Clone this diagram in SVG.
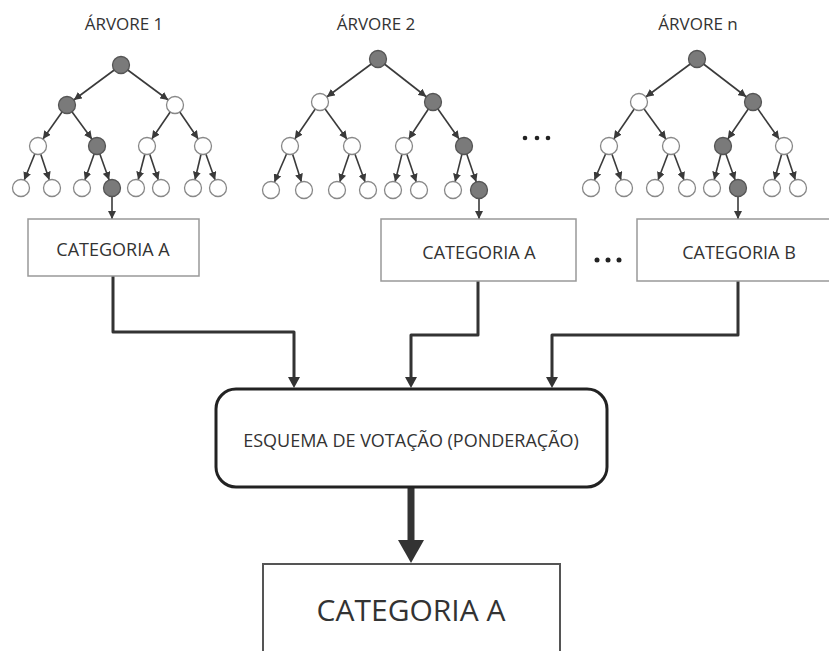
<svg xmlns="http://www.w3.org/2000/svg" width="829" height="651" viewBox="0 0 829 651">
<defs>
<style>
.t{font-family:"Open Sans","Liberation Sans",sans-serif;fill:#333;text-anchor:middle}
.e{stroke:#3a3a3a;stroke-width:1.6;fill:none}
.w{fill:#fff;stroke:#888;stroke-width:1.3}
.g{fill:#7a7a7a;stroke:#555;stroke-width:1.3}
.box{fill:#fff;stroke:#999;stroke-width:1.5}
.c{stroke:#333;stroke-width:3;fill:none;stroke-linejoin:round}
</style>
<marker id="ea" markerUnits="userSpaceOnUse" markerWidth="8" markerHeight="8" refX="16.5" refY="4" orient="auto"><path d="M0,0 L8,4 L0,8 z" fill="#3a3a3a"/></marker>
<marker id="eb" markerUnits="userSpaceOnUse" markerWidth="8" markerHeight="8" refX="8" refY="4" orient="auto"><path d="M0,0 L8,4 L0,8 z" fill="#3a3a3a"/></marker>
<marker id="ca" markerUnits="userSpaceOnUse" markerWidth="11" markerHeight="12" refX="6" refY="6" orient="auto"><path d="M0,0 L11,6 L0,12 z" fill="#333"/></marker>
</defs>
<rect width="829" height="651" fill="#fff"/>

<g id="connectors">
<g class="e" marker-end="url(#ea)">
<line x1="121" y1="65" x2="67" y2="105"/><line x1="121" y1="65" x2="175" y2="105"/>
<line x1="67" y1="105" x2="38" y2="146"/><line x1="67" y1="105" x2="97" y2="146"/>
<line x1="175" y1="105" x2="147" y2="146"/><line x1="175" y1="105" x2="203" y2="146"/>
<line x1="38" y1="146" x2="21" y2="188"/><line x1="38" y1="146" x2="52" y2="188"/>
<line x1="97" y1="146" x2="82" y2="188"/><line x1="97" y1="146" x2="112" y2="188"/>
<line x1="147" y1="146" x2="136" y2="188"/><line x1="147" y1="146" x2="161" y2="188"/>
<line x1="203" y1="146" x2="193" y2="188"/><line x1="203" y1="146" x2="218" y2="188"/>
<line x1="378" y1="59" x2="320" y2="102"/><line x1="378" y1="59" x2="433" y2="102"/>
<line x1="320" y1="102" x2="290" y2="146"/><line x1="320" y1="102" x2="352" y2="146"/>
<line x1="433" y1="102" x2="404" y2="146"/><line x1="433" y1="102" x2="464" y2="146"/>
<line x1="290" y1="146" x2="271" y2="190"/><line x1="290" y1="146" x2="304" y2="190"/>
<line x1="352" y1="146" x2="337" y2="190"/><line x1="352" y1="146" x2="368" y2="190"/>
<line x1="404" y1="146" x2="393" y2="190"/><line x1="404" y1="146" x2="419" y2="190"/>
<line x1="464" y1="146" x2="453" y2="190"/><line x1="464" y1="146" x2="479" y2="190"/>
<line x1="697" y1="59" x2="639" y2="102"/><line x1="697" y1="59" x2="753" y2="102"/>
<line x1="639" y1="102" x2="609" y2="146"/><line x1="639" y1="102" x2="671" y2="146"/>
<line x1="753" y1="102" x2="723" y2="146"/><line x1="753" y1="102" x2="784" y2="146"/>
<line x1="609" y1="146" x2="591" y2="188"/><line x1="609" y1="146" x2="624" y2="188"/>
<line x1="671" y1="146" x2="655" y2="188"/><line x1="671" y1="146" x2="687" y2="188"/>
<line x1="723" y1="146" x2="712" y2="188"/><line x1="723" y1="146" x2="738" y2="188"/>
<line x1="784" y1="146" x2="772" y2="188"/><line x1="784" y1="146" x2="798" y2="188"/>
</g>
<g class="e" marker-end="url(#eb)">
<line x1="112" y1="196" x2="112" y2="219"/>
<line x1="479" y1="198" x2="479" y2="219"/>
<line x1="738" y1="196" x2="738" y2="219"/>
</g>
<g class="c" marker-end="url(#ca)">
<path d="M113,276 V332 H294 V383"/>
<path d="M478,281 V335 H411 V383"/>
<path d="M738,281 V335 H552 V383"/>
</g>
<line x1="411" y1="488" x2="411" y2="542" stroke="#333" stroke-width="7"/>
<polygon points="398,540 424,540 411,563" fill="#333"/>
</g>

<g id="tree1">
<text class="t" x="124" y="30" font-size="17">ÁRVORE 1</text>
<circle class="g" cx="121" cy="65" r="8.5"/>
<circle class="g" cx="67" cy="105" r="8.5"/><circle class="w" cx="175" cy="105" r="8.5"/>
<circle class="w" cx="38" cy="146" r="8.5"/><circle class="g" cx="97" cy="146" r="8.5"/><circle class="w" cx="147" cy="146" r="8.5"/><circle class="w" cx="203" cy="146" r="8.5"/>
<circle class="w" cx="21" cy="188" r="8.5"/><circle class="w" cx="52" cy="188" r="8.5"/><circle class="w" cx="82" cy="188" r="8.5"/><circle class="g" cx="112" cy="188" r="8.5"/>
<circle class="w" cx="136" cy="188" r="8.5"/><circle class="w" cx="161" cy="188" r="8.5"/><circle class="w" cx="193" cy="188" r="8.5"/><circle class="w" cx="218" cy="188" r="8.5"/>
</g>

<g id="tree2">
<text class="t" x="376" y="30" font-size="17">ÁRVORE 2</text>
<circle class="g" cx="378" cy="59" r="8.5"/>
<circle class="w" cx="320" cy="102" r="8.5"/><circle class="g" cx="433" cy="102" r="8.5"/>
<circle class="w" cx="290" cy="146" r="8.5"/><circle class="w" cx="352" cy="146" r="8.5"/><circle class="w" cx="404" cy="146" r="8.5"/><circle class="g" cx="464" cy="146" r="8.5"/>
<circle class="w" cx="271" cy="190" r="8.5"/><circle class="w" cx="304" cy="190" r="8.5"/><circle class="w" cx="337" cy="190" r="8.5"/><circle class="w" cx="368" cy="190" r="8.5"/>
<circle class="w" cx="393" cy="190" r="8.5"/><circle class="w" cx="419" cy="190" r="8.5"/><circle class="w" cx="453" cy="190" r="8.5"/><circle class="g" cx="479" cy="190" r="8.5"/>
</g>

<g id="tree3">
<text class="t" x="698" y="30" font-size="17">ÁRVORE n</text>
<circle class="g" cx="697" cy="59" r="8.5"/>
<circle class="w" cx="639" cy="102" r="8.5"/><circle class="g" cx="753" cy="102" r="8.5"/>
<circle class="w" cx="609" cy="146" r="8.5"/><circle class="w" cx="671" cy="146" r="8.5"/><circle class="g" cx="723" cy="146" r="8.5"/><circle class="w" cx="784" cy="146" r="8.5"/>
<circle class="w" cx="591" cy="188" r="8.5"/><circle class="w" cx="624" cy="188" r="8.5"/><circle class="w" cx="655" cy="188" r="8.5"/><circle class="w" cx="687" cy="188" r="8.5"/>
<circle class="w" cx="712" cy="188" r="8.5"/><circle class="g" cx="738" cy="188" r="8.5"/><circle class="w" cx="772" cy="188" r="8.5"/><circle class="w" cx="798" cy="188" r="8.5"/>
</g>

<g id="dots-trees" fill="#222">
<circle cx="525" cy="138" r="2.3"/><circle cx="537" cy="138" r="2.3"/><circle cx="548" cy="138" r="2.3"/>
</g>

<g id="box1">
<rect class="box" x="28" y="219" width="171" height="57"/>
<text class="t" x="113" y="256" font-size="18">CATEGORIA A</text>
</g>
<g id="box2">
<rect class="box" x="381" y="219" width="195" height="62"/>
<text class="t" x="479" y="259" font-size="18">CATEGORIA A</text>
</g>
<g id="dots-boxes" fill="#222">
<circle cx="597" cy="260" r="2.5"/><circle cx="608" cy="260" r="2.5"/><circle cx="619" cy="260" r="2.5"/>
</g>
<g id="box3">
<rect class="box" x="637" y="219" width="200" height="62"/>
<text class="t" x="739" y="259" font-size="18">CATEGORIA B</text>
</g>

<g id="voting">
<rect x="216" y="389" width="391" height="98" rx="20" fill="#fff" stroke="#222" stroke-width="3"/>
<text class="t" x="411" y="447" font-size="18">ESQUEMA DE VOTAÇÃO (PONDERAÇÃO)</text>
</g>

<g id="result">
<rect x="263" y="564" width="297" height="110" fill="#fff" stroke="#555" stroke-width="2"/>
<text class="t" x="411" y="621" font-size="30">CATEGORIA A</text>
</g>
</svg>
